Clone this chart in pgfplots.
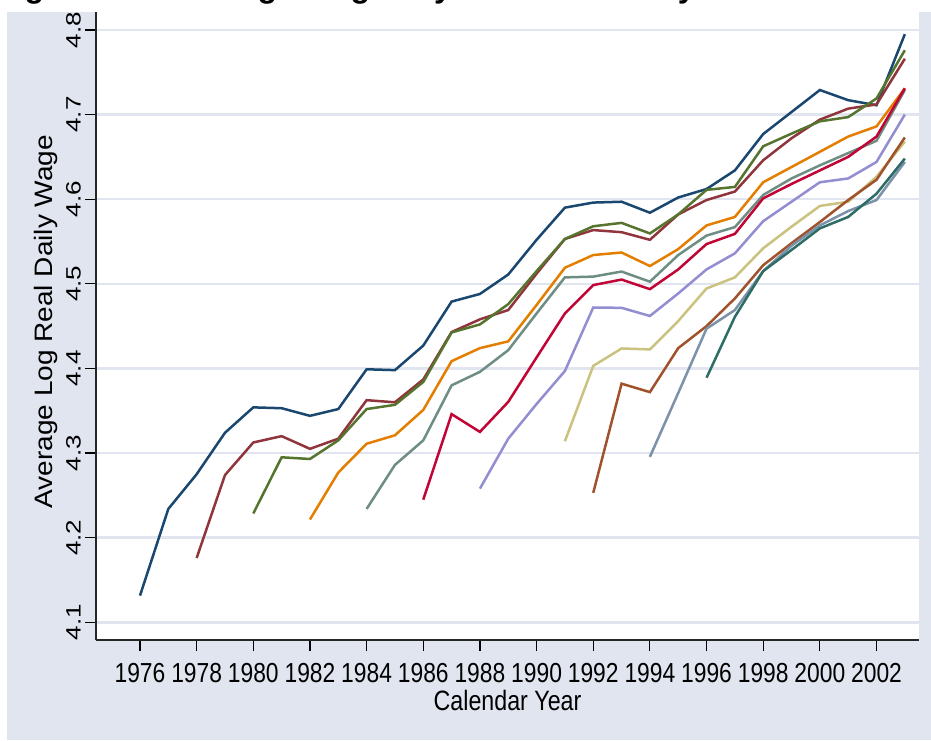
\documentclass[border=0pt]{standalone}
\usepackage{pgfplots}
\pgfplotsset{compat=1.18}
\usepackage{fontspec}
\setmainfont{Liberation Sans}
\definecolor{panel}{RGB}{224,229,240}
\definecolor{gridc}{RGB}{224,229,240}
\definecolor{snavy}{RGB}{26,71,111}
\definecolor{smaroon}{RGB}{144,53,59}
\definecolor{sgreen}{RGB}{85,117,47}
\definecolor{sorange}{RGB}{227,126,0}
\definecolor{steal}{RGB}{110,142,132}
\definecolor{scran}{RGB}{193,5,52}
\definecolor{slav}{RGB}{147,141,210}
\definecolor{skhaki}{RGB}{202,194,126}
\definecolor{ssienna}{RGB}{160,82,45}
\definecolor{semid}{RGB}{123,146,168}
\definecolor{semer}{RGB}{45,109,102}
\begin{document}
\begin{tikzpicture}[x=1pt,y=1pt]
\clip (0,0) rectangle (931,740);
\fill[white] (0,0) rectangle (931,740);
\fill[panel] (7,0) rectangle (931,728);
\node[anchor=base west, inner sep=0, font=\fontsize{32}{36}\bfseries\selectfont] at (-4,742.7) {Figure 4.1: Average Wages by Cohort of Entry};
\begin{axis}[
  at={(96pt,100pt)}, anchor=south west,
  scale only axis, width=823pt, height=628pt,
  xmin=1974.447, xmax=2003.5, ymin=4.0791, ymax=4.8212,
  axis x line*=bottom, axis y line*=left,
  axis line style={line width=1.3pt, black!85, -},
  xtick={1976,1978,1980,1982,1984,1986,1988,1990,1992,1994,1996,1998,2000,2002},
  xticklabels={1976,1978,1980,1982,1984,1986,1988,1990,1992,1994,1996,1998,2000,2002},
  ytick={4.1,4.2,4.3,4.4,4.5,4.6,4.7,4.8},
  yticklabels={4.1,4.2,4.3,4.4,4.5,4.6,4.7,4.8},
  tick align=outside, major tick length=11pt,
  tick style={black, line width=1.2pt},
  ymajorgrids, grid style={gridc, line width=2.6pt},
  axis background/.style={fill=white},
  xticklabel style={font=\fontsize{27.5}{30}\selectfont, anchor=base, yshift=-31pt, xscale=0.83},
  yticklabel style={font=\fontsize{26}{30}\selectfont, anchor=base, xshift=-4.5pt, rotate=90, yscale=0.8},
  xlabel={Calendar Year},
  xlabel style={font=\fontsize{28}{32}\selectfont, at={(axis description cs:0.5,-0.1115)}, anchor=base, xscale=0.83},
  ylabel={Average Log Real Daily Wage},
  ylabel style={font=\fontsize{28}{32}\selectfont, at={(axis description cs:-0.0523,0.507)}, anchor=base, yscale=0.9},
  every axis plot/.append style={line width=2.5pt, no markers},
]
\addplot[snavy] coordinates {(1976,4.1315)(1977,4.234)(1978,4.275)(1979,4.324)(1980,4.354)(1981,4.353)(1982,4.344)(1983,4.352)(1984,4.399)(1985,4.398)(1986,4.427)(1987,4.479)(1988,4.488)(1989,4.511)(1990,4.552)(1991,4.590)(1992,4.596)(1993,4.597)(1994,4.584)(1995,4.602)(1996,4.612)(1997,4.634)(1998,4.677)(1999,4.703)(2000,4.729)(2001,4.717)(2002,4.711)(2003,4.795)};
\addplot[smaroon] coordinates {(1978,4.176)(1979,4.274)(1980,4.3125)(1981,4.320)(1982,4.305)(1983,4.317)(1984,4.3625)(1985,4.360)(1986,4.387)(1987,4.443)(1988,4.458)(1989,4.469)(1990,4.512)(1991,4.553)(1992,4.5635)(1993,4.561)(1994,4.552)(1995,4.582)(1996,4.599)(1997,4.609)(1998,4.646)(1999,4.672)(2000,4.694)(2001,4.707)(2002,4.712)(2003,4.766)};
\addplot[sgreen] coordinates {(1980,4.2286)(1981,4.295)(1982,4.293)(1983,4.315)(1984,4.352)(1985,4.357)(1986,4.384)(1987,4.4425)(1988,4.452)(1989,4.476)(1990,4.515)(1991,4.553)(1992,4.568)(1993,4.572)(1994,4.5595)(1995,4.582)(1996,4.611)(1997,4.6145)(1998,4.6625)(1999,4.6775)(2000,4.692)(2001,4.697)(2002,4.719)(2003,4.776)};
\addplot[sorange] coordinates {(1982,4.2215)(1983,4.277)(1984,4.311)(1985,4.321)(1986,4.351)(1987,4.4086)(1988,4.424)(1989,4.432)(1990,4.475)(1991,4.519)(1992,4.534)(1993,4.537)(1994,4.521)(1995,4.541)(1996,4.569)(1997,4.579)(1998,4.620)(1999,4.638)(2000,4.656)(2001,4.674)(2002,4.686)(2003,4.731)};
\addplot[steal] coordinates {(1984,4.234)(1985,4.286)(1986,4.315)(1987,4.380)(1988,4.396)(1989,4.4216)(1990,4.465)(1991,4.5076)(1992,4.5085)(1993,4.5145)(1994,4.5025)(1995,4.534)(1996,4.557)(1997,4.567)(1998,4.605)(1999,4.6245)(2000,4.640)(2001,4.6545)(2002,4.669)(2003,4.729)};
\addplot[scran] coordinates {(1986,4.245)(1987,4.346)(1988,4.325)(1989,4.3605)(1990,4.413)(1991,4.465)(1992,4.4985)(1993,4.505)(1994,4.4937)(1995,4.517)(1996,4.547)(1997,4.559)(1998,4.601)(1999,4.618)(2000,4.634)(2001,4.650)(2002,4.674)(2003,4.731)};
\addplot[slav] coordinates {(1988,4.258)(1989,4.317)(1990,4.358)(1991,4.397)(1992,4.472)(1993,4.4716)(1994,4.462)(1995,4.4886)(1996,4.517)(1997,4.536)(1998,4.574)(1999,4.597)(2000,4.620)(2001,4.6245)(2002,4.644)(2003,4.700)};
\addplot[skhaki] coordinates {(1991,4.314)(1992,4.403)(1993,4.4236)(1994,4.4225)(1995,4.456)(1996,4.4945)(1997,4.5076)(1998,4.542)(1999,4.5675)(2000,4.592)(2001,4.597)(2002,4.6265)(2003,4.668)};
\addplot[ssienna] coordinates {(1992,4.253)(1993,4.382)(1994,4.372)(1995,4.424)(1996,4.450)(1997,4.4827)(1998,4.522)(1999,4.548)(2000,4.573)(2001,4.599)(2002,4.623)(2003,4.673)};
\addplot[semid] coordinates {(1994,4.2955)(1995,4.371)(1996,4.447)(1997,4.469)(1998,4.515)(1999,4.545)(2000,4.569)(2001,4.586)(2002,4.599)(2003,4.644)};
\addplot[semer] coordinates {(1996,4.389)(1997,4.461)(1998,4.515)(1999,4.540)(2000,4.5655)(2001,4.579)(2002,4.6065)(2003,4.648)};
\end{axis}
\end{tikzpicture}
\end{document}
